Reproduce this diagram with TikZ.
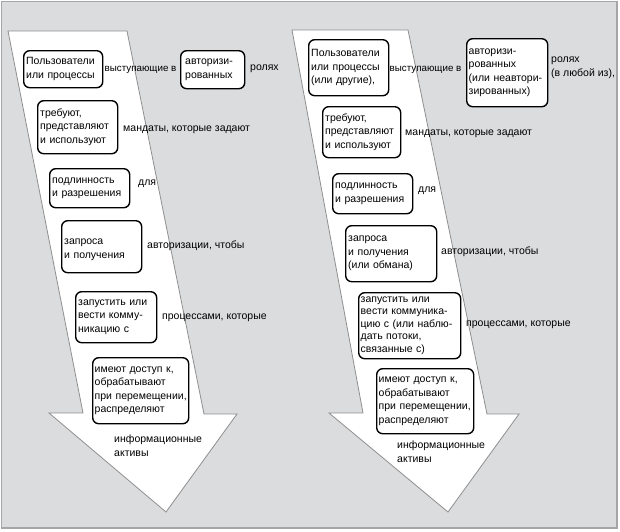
\documentclass[tikz,border=0pt]{standalone}
\usepackage{fontspec}
\setmainfont{Liberation Sans}
\definecolor{bgc}{HTML}{DBDCDD}
\definecolor{framec}{HTML}{A6A6A6}
\definecolor{arrowc}{HTML}{8E8E8E}
\tikzset{
  box/.style={draw=black, line width=1.4pt, fill=white, rounded corners=6pt,
    anchor=north west, align=left, inner xsep=2.5pt, inner ysep=2pt,
    font=\fontsize{10.5}{13.5}\selectfont},
  lbl/.style={anchor=base west, inner sep=0pt, align=left,
    font=\fontsize{10.5}{13.5}\selectfont},
  narrowlbl/.style={lbl, font=\fontsize{9.8}{13.5}\selectfont},
  bigarrow/.style={fill=white, draw=arrowc, line width=0.8pt, line join=miter}
}
\begin{document}
\begin{tikzpicture}[x=1pt,y=-1pt]
\useasboundingbox (0,0) rectangle (620,531);
\fill[white] (0,0) rectangle (620,531);
\draw[framec, fill=bgc, line width=1.5pt] (1.5,1.5) rectangle (617,528);

% left arrow
\draw[bigarrow] (8,31) -- (127,31) -- (204,414) -- (237,414) -- (166,512)
  -- (49,413) -- (83,413) -- cycle;
% right arrow
\draw[bigarrow] (292,30) -- (408,30) -- (487,414) -- (519,414) -- (448,512)
  -- (329,413) -- (363,413) -- cycle;

% ---------- left column ----------
\node[box, minimum width=79pt, minimum height=37pt, text width=74pt] (l1) at (23,50)
  {Пользователи\\или процессы};
\node[narrowlbl] (l1a) at (104.5,71) {выступающие в};
\node[box, minimum width=64pt, minimum height=38pt, text width=59pt] (l1b) at (180,50)
  {\hspace*{2pt}авторизи-\\\hspace*{2pt}рованных};
\node[lbl] (l1c) at (250,70) {ролях};

\node[box, minimum width=80pt, minimum height=53pt, text width=75pt] (l2) at (37,100)
  {требуют,\\представляют\\и используют};
\node[lbl] (l2a) at (123,131) {мандаты, которые задают};

\node[box, minimum width=80pt, minimum height=39pt, text width=75pt] (l3) at (49,168)
  {подлинность\\и разрешения};
\node[lbl] (l3a) at (138,185) {для};

\node[box, minimum width=80pt, minimum height=52pt, text width=75pt, text depth=10pt] (l4) at (61,220)
  {запроса\\и получения};
\node[lbl] (l4a) at (147,248) {авторизации, чтобы};

\node[box, minimum width=81pt, minimum height=51pt, text width=76pt] (l5) at (75,291)
  {запустить или\\вести комму-\\никацию с};
\node[lbl] (l5a) at (162,319) {процессами, которые};

\node[box, minimum width=96pt, minimum height=66pt, text width=92pt, inner xsep=2pt] (l6) at (92,357)
  {имеют доступ к,\\обрабатывают\\при перемещении,\\распределяют};
\node[lbl, anchor=north west] (l7) at (114,435) {информационные\\активы};

% ---------- right column ----------
\node[box, minimum width=80pt, minimum height=56pt, text width=75pt] (r1) at (308,39)
  {Пользователи\\или процессы\\(или другие),};
\node[narrowlbl] (r1a) at (389.5,71) {выступающие в};
\node[box, minimum width=81pt, minimum height=68pt, text width=77pt, inner xsep=2pt] (r1b) at (466,38)
  {авторизи-\\рованных\\(или неавтори-\\зированных)};
\node[lbl, anchor=north west] (r1c) at (551,57) {ролях\\(в любой из),};

\node[box, minimum width=78pt, minimum height=51pt, text width=73pt] (r2) at (322,106)
  {требуют,\\представляют\\и используют};
\node[lbl] (r2a) at (405,135) {мандаты, которые задают};

\node[box, minimum width=80pt, minimum height=40pt, text width=75pt] (r3) at (332,173)
  {подлинность\\и разрешения};
\node[lbl] (r3a) at (418,192) {для};

\node[box, minimum width=91pt, minimum height=56pt, text width=86pt] (r4) at (345,225)
  {запроса\\и получения\\(или обмана)};
\node[lbl] (r4a) at (441,254) {авторизации, чтобы};

\node[box, minimum width=102pt, minimum height=66pt, text width=98pt, inner xsep=2pt, inner ysep=1pt,
  font=\fontsize{10.5}{12.5}\selectfont] (r5) at (358,292)
  {запустить или\\вести коммуника-\\цию с (или наблю-\\дать потоки,\\связанные с)};
\node[lbl] (r5a) at (466,326) {процессами, которые};

\node[box, minimum width=97pt, minimum height=65pt, text width=93pt, inner xsep=2pt] (r6) at (376,368)
  {имеют доступ к,\\обрабатывают\\при перемещении,\\распределяют};
\node[lbl, anchor=north west] (r7) at (397,441) {информационные\\активы};
\end{tikzpicture}
\end{document}
